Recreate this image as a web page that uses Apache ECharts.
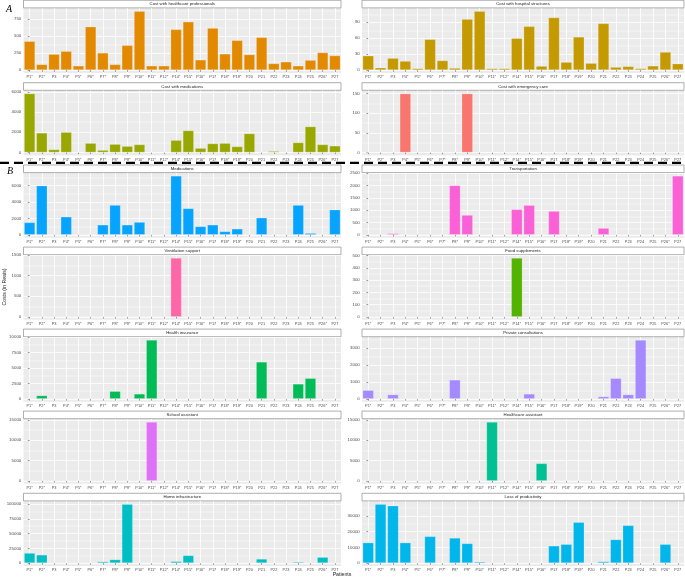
<!DOCTYPE html>
<html><head><meta charset="utf-8">
<script src="https://cdn.jsdelivr.net/npm/echarts@6/dist/echarts.min.js"></script>
<style>html,body{margin:0;padding:0;background:#fff}#c{width:685px;height:578px}</style>
</head><body><div id="c"></div>
<script>
// ---------- DATA ----------
const patients = ['P1*','P2*','P3','P4*','P5*','P6*','P7*','P8*','P9*','P10*','P11*','P12*','P14*','P15*','P16*','P17','P18*','P19*','P20','P21','P22','P23','P24','P25','P26*','P27'];

const costHealthcareProfessionals = [424,83,234,278,63,638,253,83,365,867,63,63,599,711,151,618,239,438,229,482,97,122,63,146,258,214];
const costHospitalStructures      = [27,4.4,22.5,17,3.1,58,18,3.8,96,111,3,3,60,82.5,7.5,99,15,62.5,13,88,5.6,7,3,8,34,12];
const costMedicationsA            = [5830,1940,296,2007,0,921,230,822,625,790,0,0,1217,2171,428,888,921,592,1875,0,132,0,987,2566,790,658];
const costEmergencyCare           = [0,0,0,150,0,0,0,0,150,0,0,0,0,0,0,0,0,0,0,0,0,0,0,0,0,0];
const medicationsB                = [1510,6000,0,2200,0,0,1220,3630,1220,1550,0,0,7200,3220,1020,1220,410,730,0,2080,0,0,3630,200,0,3060];
const transportation              = [0,0,54,0,0,0,0,2000,800,0,0,0,1030,1200,0,960,0,0,0,270,0,0,0,0,0,2390];
const ventilationSupport          = [0,0,0,0,0,0,0,0,0,0,0,0,1430,0,0,0,0,0,0,0,0,0,0,0,0,0];
const foodSupplements             = [0,0,0,0,0,0,0,0,0,0,0,0,480,0,0,0,0,0,0,0,0,0,0,0,0,0];
const healthInsurance             = [0,540,0,0,0,0,0,1240,0,810,9560,0,0,0,0,0,0,0,0,6000,0,0,2430,3350,0,0];
const privateConsultations        = [510,0,255,0,0,0,0,1120,0,0,0,0,0,294,0,0,0,0,0,137,1215,255,3470,0,0,0];
const schoolAssistant             = [0,0,0,0,0,0,0,0,0,0,14500,0,0,0,0,0,0,0,0,0,0,0,0,0,0,0];
const healthcareAssistant         = [0,0,0,0,0,0,0,0,0,0,14500,0,0,0,4300,0,0,0,0,0,0,0,0,0,0,0];
const homeInfrastructure          = [17000,14000,0,0,0,0,2500,6000,100000,0,0,0,3000,13000,0,0,0,0,0,7000,0,0,2000,0,10000,0];
const lossOfProductivity          = [13000,37500,36500,13000,0,17000,0,16000,12500,800,0,0,0,0,0,11000,12000,26000,0,1000,15000,24000,0,0,12000,0];

// tick labels (major) and minor grid values
const ticksHP = [0,250,500,750],            minorHP = [125,375,625,875];
const ticksHosp = [0,30,60,90],             minorHosp = [15,45,75,105];
const ticksMedA = [0,2000,4000,6000],       minorMedA = [1000,3000,5000];
const ticksEmerg = [0,50,100,150],          minorEmerg = [25,75,125];
const ticksMedB = [0,2000,4000,6000],       minorMedB = [1000,3000,5000,7000];
const ticksTransp = [0,500,1000,1500,2000,2500], minorTransp = [250,750,1250,1750,2250];
const ticksVent = [0,500,1000,1500],        minorVent = [250,750,1250];
const ticksFood = [0,100,200,300,400,500],  minorFood = [50,150,250,350,450];
const ticksHI = [0,2500,5000,7500,10000],   minorHI = [1250,3750,6250,8750];
const ticksPriv = [0,1000,2000,3000],       minorPriv = [500,1500,2500,3500];
const ticksSchool = [0,5000,10000,15000],   minorSchool = [2500,7500,12500];
const ticksHCA = [0,5000,10000,15000],      minorHCA = [2500,7500,12500];
const ticksHome = [0,25000,50000,75000,100000], minorHome = [12500,37500,62500,87500];
const ticksLoss = [0,10000,20000,30000],    minorLoss = [5000,15000,25000,35000];

// ---------- PANELS ----------
const panels = [
  {title:'Cost with healthcare professionals', data:costHealthcareProfessionals, color:'#E38900', ticks:ticksHP, minor:minorHP},
  {title:'Cost with hospital structures', data:costHospitalStructures, color:'#C49A00', ticks:ticksHosp, minor:minorHosp},
  {title:'Cost with medications', data:costMedicationsA, color:'#99A800', ticks:ticksMedA, minor:minorMedA},
  {title:'Cost with emergency care', data:costEmergencyCare, color:'#F8766D', ticks:ticksEmerg, minor:minorEmerg},
  {title:'Medications', data:medicationsB, color:'#06A4FF', ticks:ticksMedB, minor:minorMedB},
  {title:'Transportation', data:transportation, color:'#FB61D7', ticks:ticksTransp, minor:minorTransp},
  {title:'Ventilation support', data:ventilationSupport, color:'#FF66A8', ticks:ticksVent, minor:minorVent},
  {title:'Food supplements', data:foodSupplements, color:'#53B400', ticks:ticksFood, minor:minorFood},
  {title:'Health insurance', data:healthInsurance, color:'#00BC56', ticks:ticksHI, minor:minorHI},
  {title:'Private consultations', data:privateConsultations, color:'#A58AFF', ticks:ticksPriv, minor:minorPriv},
  {title:'School assistant', data:schoolAssistant, color:'#DF70F8', ticks:ticksSchool, minor:minorSchool},
  {title:'Healthcare assistant', data:healthcareAssistant, color:'#00C094', ticks:ticksHCA, minor:minorHCA},
  {title:'Home infrastructure', data:homeInfrastructure, color:'#00BFC4', ticks:ticksHome, minor:minorHome},
  {title:'Loss of productivity', data:lossOfProductivity, color:'#00B6EB', ticks:ticksLoss, minor:minorLoss}
];

const cols = [{left:23.5, width:317.5},{left:362, width:322}];
const rowTops = [8.2, 90.6, 172.9, 255, 337, 419, 501.2];
const plotH = 64.8, stripH = 7.6;
const FONT = '"Liberation Sans", Arial, sans-serif';
const catIdx = patients.map((_, i) => i);

const grids = [], xAxes = [], yAxes = [], series = [], graphics = [];
panels.forEach((p, i) => {
  const c = cols[i % 2], top = rowTops[Math.floor(i / 2)];
  const mx = Math.max.apply(null, p.data);
  grids.push({left:c.left, top:top, width:c.width, height:plotH, show:true, backgroundColor:'#EBEBEB', borderWidth:0, containLabel:false});
  xAxes.push({
    type:'category', gridIndex:i, data:patients,
    axisLine:{show:false},
    axisTick:{show:true, alignWithLabel:true, length:1.8, lineStyle:{color:'#333', width:0.5}},
    axisLabel:{interval:0, fontSize:3.9, color:'#4D4D4D', margin:2.2, fontFamily:FONT},
    splitLine:{show:false}
  });
  xAxes.push({
    type:'value', gridIndex:i, min:-0.5, max:25.5,
    axisLine:{show:false}, axisLabel:{show:false},
    axisTick:{show:false, customValues:catIdx},
    splitLine:{show:true, lineStyle:{color:'#FFFFFF', width:0.8}}
  });
  const yBase = {type:'value', gridIndex:i, min:-0.05*mx, max:1.05*mx, axisLine:{show:false}};
  yAxes.push(Object.assign({}, yBase, {
    axisTick:{show:true, length:1.8, customValues:p.ticks, lineStyle:{color:'#333', width:0.5}},
    axisLabel:{customValues:p.ticks, formatter:(v)=>String(v), fontSize:4.4, color:'#4D4D4D', margin:2.2, fontFamily:FONT},
    splitLine:{show:true, lineStyle:{color:'#FFFFFF', width:0.8}}
  }));
  yAxes.push(Object.assign({}, yBase, {
    axisTick:{show:false, customValues:p.minor},
    axisLabel:{show:false},
    splitLine:{show:true, lineStyle:{color:'#FFFFFF', width:0.4}}
  }));
  series.push({
    type:'bar', xAxisIndex:2*i, yAxisIndex:2*i, data:p.data,
    barCategoryGap:'10%', silent:true, animation:false,
    itemStyle:{color:p.color, borderColor:'rgba(255,255,255,0.35)', borderWidth:0.6}
  });
  // facet strip
  graphics.push({type:'rect', shape:{x:c.left, y:top - stripH - 0.3, width:c.width, height:stripH},
    style:{fill:'#FFFFFF', stroke:'#8C8C8C', lineWidth:0.7}, silent:true});
  graphics.push({type:'text', x:c.left + c.width/2, y:top - stripH/2 - 0.3,
    style:{text:p.title, fontSize:4.3, fill:'#1A1A1A', align:'center', verticalAlign:'middle', fontFamily:FONT}, silent:true});
});

graphics.push({type:'line', shape:{x1:0, y1:162.8, x2:685, y2:162.8},
  style:{stroke:'#000', lineWidth:2.3, lineDash:[9,5]}, silent:true});
graphics.push({type:'text', x:9, y:9, style:{text:'A', font:'italic 10px "Liberation Serif", "DejaVu Serif", serif', fill:'#000', align:'center', verticalAlign:'middle'}, silent:true});
graphics.push({type:'text', x:10, y:171, style:{text:'B', font:'italic 10px "Liberation Serif", "DejaVu Serif", serif', fill:'#000', align:'center', verticalAlign:'middle'}, silent:true});
graphics.push({type:'text', x:5, y:287, rotation:Math.PI/2,
  style:{text:'Costs (in Reais)', fontSize:5.2, fill:'#1A1A1A', align:'center', verticalAlign:'middle', fontFamily:FONT}, silent:true});
graphics.push({type:'text', x:342, y:574.5,
  style:{text:'Patients', fontSize:5.2, fill:'#1A1A1A', align:'center', verticalAlign:'middle', fontFamily:FONT}, silent:true});

const chart = echarts.init(document.getElementById('c'), null, {renderer:'canvas'});
chart.setOption({
  animation:false,
  grid:grids, xAxis:xAxes, yAxis:yAxes, series:series, graphic:graphics
});
</script></body></html>
